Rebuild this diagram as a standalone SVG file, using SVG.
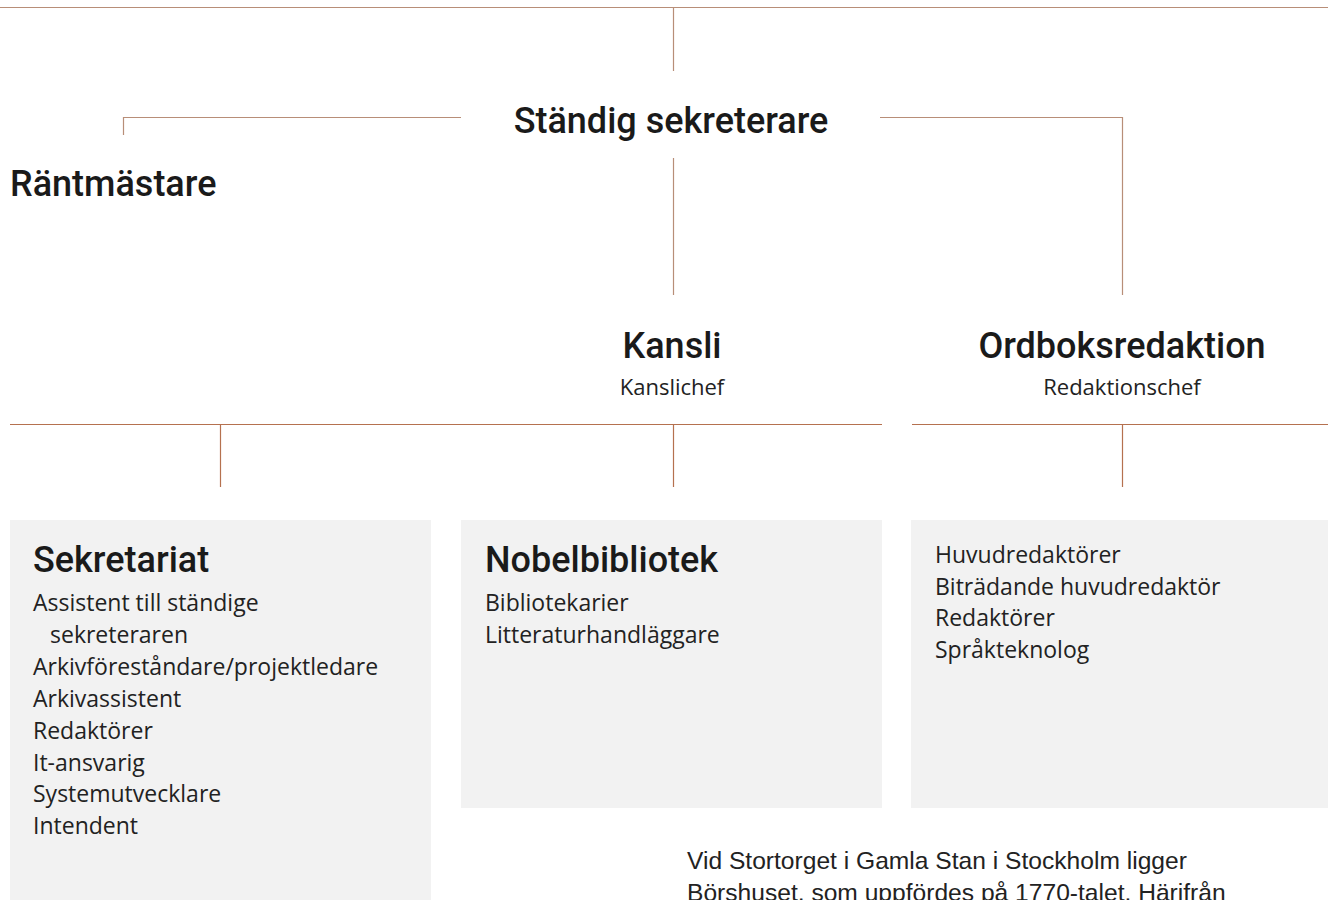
<svg xmlns="http://www.w3.org/2000/svg" width="1328" height="900" viewBox="0 0 1328 900">
<style>
.h{font-family:Roboto,"Liberation Sans",Arial,sans-serif;font-weight:500;fill:#1a1a1a}
.t{font-family:"Open Sans","Liberation Sans",Arial,sans-serif;font-weight:400;fill:#222}
.p{font-family:"Liberation Sans",Arial,sans-serif;fill:#222}
.c1{stroke:#b88e78;stroke-width:1.2;fill:none}
.c2{stroke:#b5714f;stroke-width:1.2;fill:none}
.box{fill:#f2f2f2}
</style>
<rect width="1328" height="900" fill="#fff"/>
<g id="connectors">
<path class="c1" d="M0 7.5H1328M673.5 7.5V71"/>
<path class="c1" d="M123.5 135V117.5H461"/>
<path class="c1" d="M880 117.5H1122.5V295"/>
<path class="c1" d="M673.5 158V295"/>
<path class="c2" d="M10 424.5H882M912 424.5H1328"/>
<path class="c2" d="M220.5 424.5V487M673.5 424.5V487M1122.5 424.5V487"/>
</g>
<g id="standig-sekreterare">
<text class="h" x="671" y="133" font-size="36" text-anchor="middle">Ständig sekreterare</text>
</g>
<g id="rantmastare">
<text class="h" x="10" y="196" font-size="36">Räntmästare</text>
</g>
<g id="kansli">
<text class="h" x="672" y="358" font-size="36" text-anchor="middle">Kansli</text>
<text class="t" x="672" y="395" font-size="22" text-anchor="middle">Kanslichef</text>
</g>
<g id="ordboksredaktion">
<text class="h" x="1122" y="358" font-size="36" text-anchor="middle">Ordboksredaktion</text>
<text class="t" x="1122" y="395" font-size="22" text-anchor="middle">Redaktionschef</text>
</g>
<g id="sekretariat">
<rect class="box" x="10" y="520" width="421" height="380"/>
<text class="h" x="33" y="572" font-size="36">Sekretariat</text>
<g class="t" font-size="23">
<text x="33" y="611">Assistent till ständige</text>
<text x="50" y="643">sekreteraren</text>
<text x="33" y="675">Arkivföreståndare/projektledare</text>
<text x="33" y="707">Arkivassistent</text>
<text x="33" y="739">Redaktörer</text>
<text x="33" y="771">It-ansvarig</text>
<text x="33" y="802">Systemutvecklare</text>
<text x="33" y="834">Intendent</text>
</g>
</g>
<g id="nobelbibliotek">
<rect class="box" x="461" y="520" width="421" height="288"/>
<text class="h" x="485" y="572" font-size="36">Nobelbibliotek</text>
<g class="t" font-size="23">
<text x="485" y="611">Bibliotekarier</text>
<text x="485" y="643">Litteraturhandläggare</text>
</g>
</g>
<g id="ordboksredaktion-staff">
<rect class="box" x="911" y="520" width="417" height="288"/>
<g class="t" font-size="23">
<text x="935" y="563">Huvudredaktörer</text>
<text x="935" y="595">Biträdande huvudredaktör</text>
<text x="935" y="626">Redaktörer</text>
<text x="935" y="658">Språkteknolog</text>
</g>
</g>
<g id="paragraph" class="p" font-size="24.6">
<text x="687" y="869">Vid Stortorget i Gamla Stan i Stockholm ligger</text>
<text x="687" y="901">Börshuset, som uppfördes på 1770-talet. Härifrån</text>
</g>
</svg>
